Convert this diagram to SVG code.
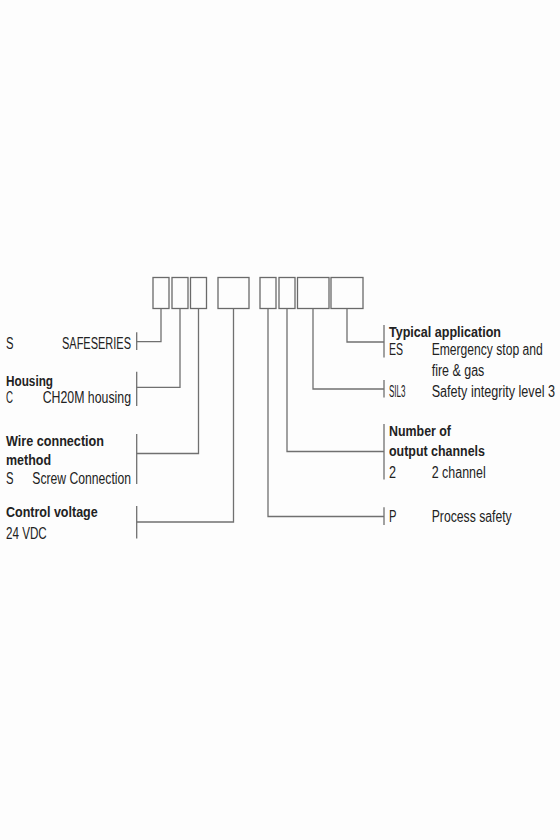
<svg xmlns="http://www.w3.org/2000/svg" width="560" height="840" viewBox="0 0 560 840">
<style>
.bx{fill:none;stroke:#6a6a6a;stroke-width:1.3}
.ln{fill:none;stroke:#707070;stroke-width:1.3}
text{font-family:"Liberation Sans",Arial,sans-serif;fill:#222}
.t{font-size:16px}
.h{font-size:14.5px;font-weight:bold}
</style>
<rect width="560" height="840" fill="#fdfdfd"/>
<g id="code-boxes">
<rect id="box1" class="bx" x="153" y="277.5" width="16" height="31"/>
<rect id="box2" class="bx" x="172" y="277.5" width="16" height="31"/>
<rect id="box3" class="bx" x="190.5" y="277.5" width="16" height="31"/>
<rect id="box4" class="bx" x="218" y="277.5" width="31" height="31"/>
<rect id="box5" class="bx" x="260" y="277.5" width="16" height="31"/>
<rect id="box6" class="bx" x="279" y="277.5" width="16" height="31"/>
<rect id="box7" class="bx" x="297.5" y="277.5" width="31.5" height="31"/>
<rect id="box8" class="bx" x="331" y="277.5" width="32" height="31"/>
</g>
<g id="connectors">
<polyline class="ln" points="161,308.5 161,341.7 136.7,341.7"/>
<line class="ln" x1="136.7" y1="332.3" x2="136.7" y2="350"/>
<polyline class="ln" points="180,308.5 180,387.3 136.7,387.3"/>
<line class="ln" x1="136.7" y1="371.7" x2="136.7" y2="406"/>
<polyline class="ln" points="198.5,308.5 198.5,453.5 136.7,453.5"/>
<line class="ln" x1="136.7" y1="434" x2="136.7" y2="484"/>
<polyline class="ln" points="233.5,308.5 233.5,522 136.7,522"/>
<line class="ln" x1="136.7" y1="506" x2="136.7" y2="538.5"/>
<polyline class="ln" points="268,308.5 268,516.5 384,516.5"/>
<line class="ln" x1="384" y1="507.3" x2="384" y2="525"/>
<polyline class="ln" points="287,308.5 287,451.5 384,451.5"/>
<line class="ln" x1="384" y1="424" x2="384" y2="479.5"/>
<polyline class="ln" points="313,308.5 313,389 384,389"/>
<line class="ln" x1="384" y1="380" x2="384" y2="397.5"/>
<polyline class="ln" points="347,308.5 347,342 384,342"/>
<line class="ln" x1="384" y1="325" x2="384" y2="357.5"/>
</g>
<g id="series">
<text class="t" x="6" y="349" textLength="7.5" lengthAdjust="spacingAndGlyphs">S</text>
<text class="t" x="62" y="349" textLength="69" lengthAdjust="spacingAndGlyphs">SAFESERIES</text>
</g>
<g id="housing">
<text class="h" x="6" y="385.5" textLength="47" lengthAdjust="spacingAndGlyphs">Housing</text>
<text class="t" x="6" y="403" textLength="7" lengthAdjust="spacingAndGlyphs">C</text>
<text class="t" x="42.7" y="403" textLength="88.3" lengthAdjust="spacingAndGlyphs">CH20M housing</text>
</g>
<g id="wire">
<text class="h" x="6" y="446" textLength="98" lengthAdjust="spacingAndGlyphs">Wire connection</text>
<text class="h" x="6" y="465" textLength="45" lengthAdjust="spacingAndGlyphs">method</text>
<text class="t" x="6" y="484" textLength="7.5" lengthAdjust="spacingAndGlyphs">S</text>
<text class="t" x="32.3" y="484" textLength="98.7" lengthAdjust="spacingAndGlyphs">Screw Connection</text>
</g>
<g id="voltage">
<text class="h" x="6" y="517" textLength="91.7" lengthAdjust="spacingAndGlyphs">Control voltage</text>
<text class="t" x="6" y="539" textLength="40.7" lengthAdjust="spacingAndGlyphs">24 VDC</text>
</g>
<g id="application">
<text class="h" x="389" y="336.7" textLength="112" lengthAdjust="spacingAndGlyphs">Typical application</text>
<text class="t" x="389" y="354.5" textLength="14" lengthAdjust="spacingAndGlyphs">ES</text>
<text class="t" x="431.7" y="354.5" textLength="111" lengthAdjust="spacingAndGlyphs">Emergency stop and</text>
<text class="t" x="431.7" y="375.5" textLength="52.6" lengthAdjust="spacingAndGlyphs">fire &amp; gas</text>
</g>
<g id="sil">
<text class="t" x="389" y="397" textLength="16.5" lengthAdjust="spacingAndGlyphs">SIL3</text>
<text class="t" x="431.7" y="397" textLength="123.3" lengthAdjust="spacingAndGlyphs">Safety integrity level 3</text>
</g>
<g id="channels">
<text class="h" x="389" y="435.7" textLength="62" lengthAdjust="spacingAndGlyphs">Number of</text>
<text class="h" x="389" y="456" textLength="96" lengthAdjust="spacingAndGlyphs">output channels</text>
<text class="t" x="389" y="478" textLength="7" lengthAdjust="spacingAndGlyphs">2</text>
<text class="t" x="431.7" y="478" textLength="54" lengthAdjust="spacingAndGlyphs">2 channel</text>
</g>
<g id="process">
<text class="t" x="389" y="521.5" textLength="7.5" lengthAdjust="spacingAndGlyphs">P</text>
<text class="t" x="431.7" y="521.5" textLength="80" lengthAdjust="spacingAndGlyphs">Process safety</text>
</g>
</svg>
